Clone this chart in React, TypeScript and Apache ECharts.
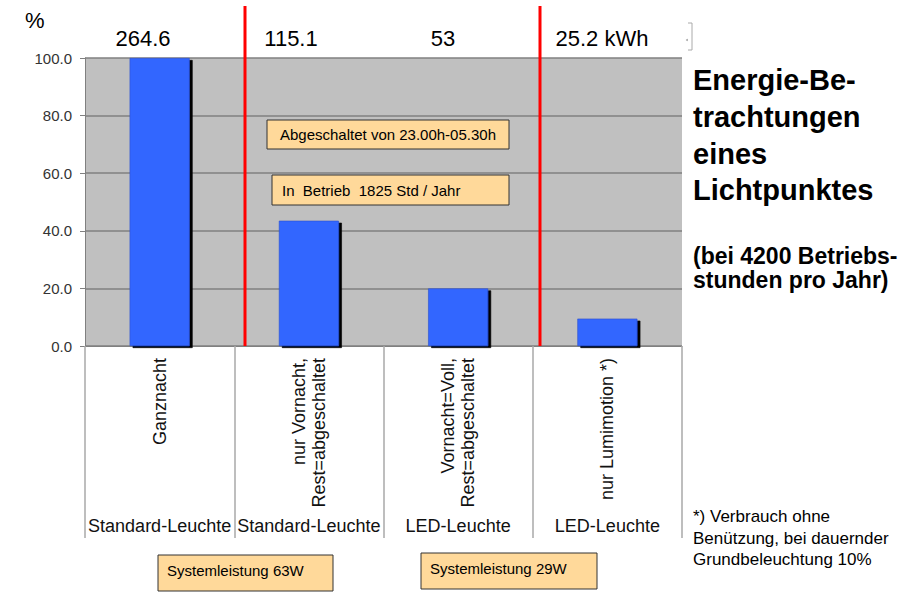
import React, { useEffect, useRef } from "react";
import * as echarts from "echarts";

const categories = [
  "Ganznacht",
  "nur Vornacht,\nRest=abgeschaltet",
  "Vornacht=Voll,\nRest=abgeschaltet",
  "nur Lumimotion *)",
];
const lampTypes = ["Standard-Leuchte", "Standard-Leuchte", "LED-Leuchte", "LED-Leuchte"];
const percentValues = [100.0, 43.5, 20.0, 9.5];
const kwhLabels = ["264.6", "115.1", "53", "25.2 kWh"];
const yMin = 0;
const yMax = 100;
const yInterval = 20;

const titleLines = ["Energie-Be-", "trachtungen", "eines", "Lichtpunktes"];
const subtitleLines = ["(bei 4200 Betriebs-", "stunden pro Jahr)"];
const footnoteLines = ["*) Verbrauch ohne", "Benützung, bei dauernder", "Grundbeleuchtung 10%"];
const noteBoxes = [
  { text: "Abgeschaltet von 23.00h-05.30h", x: 267, y: 120, w: 242, h: 29, tx: 388, ty: 134.5, align: "center" },
  { text: "In  Betrieb  1825 Std / Jahr", x: 272, y: 175, w: 237, h: 30, tx: 282, ty: 190, align: "left" },
  { text: "Systemleistung 63W", x: 158, y: 555, w: 175, h: 36, tx: 167, ty: 570, align: "left" },
  { text: "Systemleistung 29W", x: 421, y: 553, w: 176, h: 36, tx: 430, ty: 568, align: "left" },
];

const FONT = "'Liberation Sans', Arial, Helvetica, sans-serif";

export default function App() {
  const ref = useRef<HTMLDivElement>(null);
  useEffect(() => {
    document.body.style.margin = "0";
    const chart = echarts.init(ref.current!, null, { renderer: "svg" });
    const kwhX = [143, 291, 443, 602];
    const graphic: any[] = [];
    graphic.push({
      type: "text",
      left: 25,
      top: 9,
      style: { text: "%", font: `22px ${FONT}`, fill: "#000" },
    });
    kwhLabels.forEach((t, i) => {
      graphic.push({
        type: "text",
        x: kwhX[i],
        y: 38,
        style: { text: t, font: `22px ${FONT}`, fill: "#000", textAlign: "center", textVerticalAlign: "middle" },
      });
    });
    [245, 540].forEach((x) => {
      graphic.push({
        type: "line",
        shape: { x1: x, y1: 6, x2: x, y2: 346 },
        style: { stroke: "#FF0000", lineWidth: 3 },
        z: 100,
      });
    });
    graphic.push({
      type: "polyline",
      shape: { points: [[688, 23], [692, 23], [692, 50], [688, 50]] },
      style: { stroke: "#aaaaaa", lineWidth: 1, fill: null },
    });
    graphic.push({
      type: "circle",
      shape: { cx: 687, cy: 40, r: 1 },
      style: { fill: "#aaaaaa" },
    });
    noteBoxes.forEach((b) => {
      graphic.push({
        type: "rect",
        shape: { x: b.x, y: b.y, width: b.w, height: b.h },
        style: { fill: "#FFD99A", stroke: "#333333", lineWidth: 1 },
        z: 110,
      });
      graphic.push({
        type: "text",
        x: b.tx,
        y: b.ty,
        style: {
          text: b.text,
          font: `15px ${FONT}`,
          fill: "#000",
          textAlign: b.align,
          textVerticalAlign: "middle",
        },
        z: 111,
      });
    });
    const titleY = [80, 117, 154, 190];
    titleLines.forEach((t, i) => {
      graphic.push({
        type: "text",
        x: 693,
        y: titleY[i],
        style: { text: t, font: `bold 29px ${FONT}`, fill: "#000", textVerticalAlign: "middle" },
      });
    });
    const subY = [256, 280];
    subtitleLines.forEach((t, i) => {
      graphic.push({
        type: "text",
        x: 693,
        y: subY[i],
        style: { text: t, font: `bold 23px ${FONT}`, fill: "#000", textVerticalAlign: "middle" },
      });
    });
    const footY = [516, 538, 559];
    footnoteLines.forEach((t, i) => {
      graphic.push({
        type: "text",
        x: 693,
        y: footY[i],
        style: { text: t, font: `17px ${FONT}`, fill: "#000", textVerticalAlign: "middle" },
      });
    });

    chart.setOption({
      animation: false,
      backgroundColor: "#ffffff",
      grid: {
        left: 85,
        right: 242,
        top: 58,
        bottom: 247,
        show: true,
        backgroundColor: "#C0C0C0",
        borderWidth: 0,
      },
      xAxis: [
        {
          type: "category",
          data: categories,
          position: "bottom",
          axisLine: { show: true, lineStyle: { color: "#808080", width: 1 } },
          axisTick: { show: true, length: 192, lineStyle: { color: "#a8a8a8", width: 1.5 } },
          axisLabel: {
            rotate: 90,
            margin: 12,
            fontSize: 18,
            lineHeight: 20,
            color: "#111",
            fontFamily: FONT,
            interval: 0,
          },
          splitLine: { show: false },
        },
        {
          type: "category",
          data: lampTypes,
          position: "bottom",
          axisLine: { show: false },
          axisTick: { show: false },
          axisLabel: {
            margin: 171,
            fontSize: 18,
            color: "#111",
            fontFamily: FONT,
            interval: 0,
          },
          splitLine: { show: false },
        },
      ],
      yAxis: {
        type: "value",
        min: yMin,
        max: yMax,
        interval: yInterval,
        axisLine: { show: true, lineStyle: { color: "#808080", width: 1 } },
        axisTick: { show: true, length: 5, lineStyle: { color: "#808080" } },
        axisLabel: {
          margin: 13,
          fontSize: 15,
          color: "#333",
          fontFamily: FONT,
          formatter: (v: number) => v.toFixed(1),
        },
        splitLine: { show: true, lineStyle: { color: "#808080", width: 1.5 } },
      },
      series: [
        {
          type: "bar",
          xAxisIndex: 0,
          data: percentValues,
          barWidth: 60,
          itemStyle: {
            color: "#3366FF",
            borderColor: "#2a4fcc",
            borderWidth: 0.6,
            shadowColor: "#000000",
            shadowBlur: 0,
            shadowOffsetX: 3,
            shadowOffsetY: 2,
          },
        },
      ],
      graphic,
    });
    return () => chart.dispose();
  }, []);
  return <div ref={ref} style={{ width: 924, height: 593 }} />;
}
